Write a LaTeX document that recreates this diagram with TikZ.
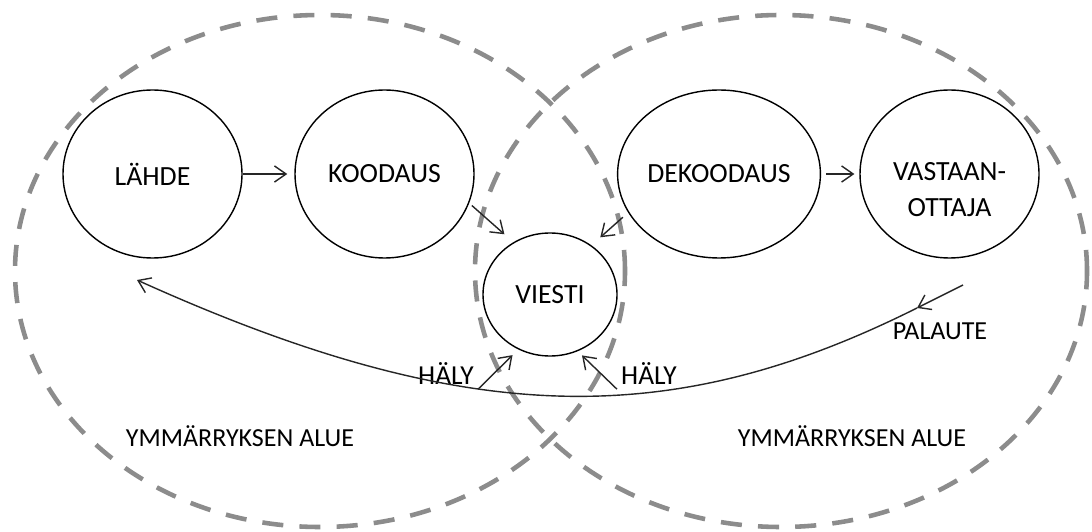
\documentclass[tikz,border=0pt]{standalone}
\usepackage{fontspec}
\setmainfont{Carlito}
\usetikzlibrary{arrows.meta,shapes.geometric}

\begin{document}
\begin{tikzpicture}[
    every node/.style={font=\fontsize{7.4}{10.2}\selectfont},
    piiri/.style={draw=black, ellipse, line width=0.4pt, inner sep=0pt, font=\fontsize{7.9}{10.2}\selectfont},
    alue/.style={draw=gray!90, line width=1.3pt, dash pattern=on 6pt off 4.6pt},
    nuoli/.style={draw=black!85, line width=0.4pt, -{Straight Barb[length=3.3pt,width=4.6pt]}}
]
    \useasboundingbox (0,0) rectangle (10.92,5.31);
    \tikzstyle{iso}=[piiri, minimum width=1.79cm, minimum height=1.68cm]

    % ymmarryksen alueet
    \draw [alue] (3.20,2.60) ellipse [x radius=3.05cm, y radius=2.56cm];
    \draw [alue] (7.81,2.60) ellipse [x radius=3.06cm, y radius=2.56cm];
    \node (alue-l) at (2.40,0.95) {YMMÄRRYKSEN ALUE};
    \node (alue-r) at (8.52,0.95) {YMMÄRRYKSEN ALUE};

    % prosessin vaiheet
    \node [iso] (lahde) at (1.525,3.57) {LÄHDE};
    \node [iso] (koodaus) at (3.845,3.57) {KOODAUS};
    \node [iso] (dekoodaus) at (7.19,3.57) {DEKOODAUS};
    \node [iso, label={[align=center, yshift=-4.4pt, font=\fontsize{7.9}{10.2}\selectfont]center:{VASTAAN-\\OTTAJA}}] (vastaanottaja) at (9.495,3.57) {};
    \node [piiri, minimum width=1.34cm, minimum height=1.23cm] (viesti) at (5.50,2.365) {VIESTI};

    \draw [nuoli, shorten >=2pt] (lahde) -- (koodaus);
    \draw [nuoli, shorten <=1.4pt, shorten >=1.4pt] (dekoodaus) -- (vastaanottaja);
    \draw [nuoli, shorten <=1pt, shorten >=3.4pt] (koodaus.-19) -- (viesti.125);
    \draw [nuoli, shorten <=2pt, shorten >=3.4pt] (dekoodaus.203) -- (viesti.50);

    % hairiot
    \node [inner sep=1pt, font=\fontsize{7.8}{10}\selectfont] (haly-l) at (4.46,1.57) {HÄLY};
    \node [inner sep=1pt, font=\fontsize{7.8}{10}\selectfont] (haly-r) at (6.49,1.57) {HÄLY};
    \draw [nuoli, shorten >=2.3pt] (haly-l.south east) -- (viesti.240);
    \draw [nuoli, shorten >=1.7pt] (haly-r.south west) -- (viesti.296);

    % palaute takaisin lahteelle
    \coordinate (palaute-alku) at (9.63,2.46);
    \coordinate (palaute-mutka) at (9.17,2.23);
    \coordinate (palaute-loppu) at (1.37,2.51);
    \draw [nuoli] (palaute-alku) -- (palaute-mutka);
    \draw [nuoli] (palaute-mutka) .. controls (6.73,1.01) and (4.69,1.01) .. (palaute-loppu);
    \node (palaute) at (9.40,2.00) {PALAUTE};
\end{tikzpicture}
\end{document}
